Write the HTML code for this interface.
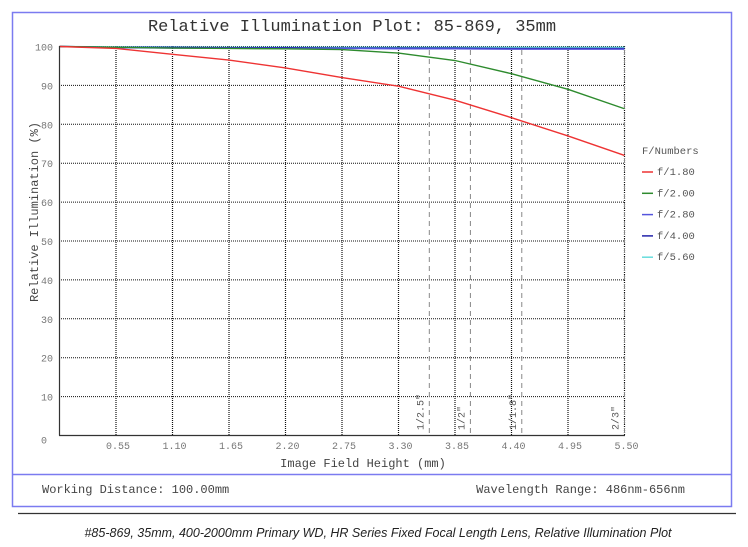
<!DOCTYPE html>
<html><head><meta charset="utf-8"><style>
body{margin:0;width:748px;height:547px;background:#fff;overflow:hidden}
svg{display:block}
</style></head><body>
<svg width="748" height="547" font-family="Liberation Mono, monospace">
<rect x="12.5" y="12.5" width="719" height="494" fill="none" stroke="#7b7bf0" stroke-width="1.5"/>
<line x1="12" y1="474.5" x2="732" y2="474.5" stroke="#7b7bf0" stroke-width="1.5"/>
<text x="352" y="31" font-size="17" text-anchor="middle" fill="#333">Relative Illumination Plot: 85-869, 35mm</text>
<g id="grid"></g>
<g id="sensors"></g>
<g id="series"></g>
<line x1="59.5" y1="46" x2="59.5" y2="435.5" stroke="#333" stroke-width="1.2"/>
<line x1="59" y1="435.5" x2="625" y2="435.5" stroke="#333" stroke-width="1.2"/>
<g id="ticks" font-size="10" fill="#777"></g>
<text x="363" y="467" font-size="12" text-anchor="middle" fill="#444">Image Field Height (mm)</text>
<text transform="translate(38,212) rotate(-90)" font-size="12" text-anchor="middle" fill="#444">Relative Illumination (%)</text>
<g id="legend" font-size="10.5" fill="#555">
<text x="642" y="154">F/Numbers</text>
</g>
<text x="42" y="493" font-size="12" fill="#444">Working Distance: 100.00mm</text>
<text x="685" y="493" font-size="12" fill="#444" text-anchor="end">Wavelength Range: 486nm-656nm</text>
<line x1="18" y1="513.5" x2="736" y2="513.5" stroke="#333" stroke-width="1.2"/>
<text x="378" y="537" font-family="Liberation Sans, sans-serif" font-style="italic" font-size="12.5" text-anchor="middle" fill="#222">#85-869, 35mm, 400-2000mm Primary WD, HR Series Fixed Focal Length Lens, Relative Illumination Plot</text>
</svg>
<script>
const xValues=[0,0.55,1.1,1.65,2.2,2.75,3.3,3.85,4.4,4.95,5.5];
const seriesNames=["f/1.80","f/2.00","f/2.80","f/4.00","f/5.60"];
const f180=[100,99.5,98,96.5,94.5,92,89.8,86.2,81.7,77,72];
const f200=[100,99.8,99.6,99.5,99.4,99.2,98.3,96.4,93,89,84];
const f280=[100,99.7,99.6,99.6,99.5,99.5,99.4,99.4,99.3,99.3,99.3];
const f400=[100,99.8,99.8,99.7,99.7,99.6,99.6,99.6,99.5,99.5,99.5];
const f560=[100,99.9,99.9,99.8,99.8,99.8,99.8,99.8,99.8,99.8,99.8];
const yTicks=[0,10,20,30,40,50,60,70,80,90,100];
const xTicks=["0.55","1.10","1.65","2.20","2.75","3.30","3.85","4.40","4.95","5.50"];
const sensorNames=['1/2.5"','1/2"','1/1.8"','2/3"'];
const sensorPos=[3.6,4.0,4.5,5.5];
const colors=["#ee3333","#2e8b2e","#5555dd","#2222aa","#66dddd"];
const NS="http://www.w3.org/2000/svg";
const X=v=>59.5+v*(624.5-59.5)/5.5;
const Y=v=>435.5-v*3.89;
function mk(tag,attrs,parent,txt){const e=document.createElementNS(NS,tag);for(const k in attrs)e.setAttribute(k,attrs[k]);if(txt!==undefined)e.textContent=txt;document.getElementById(parent).appendChild(e);return e;}
yTicks.forEach(t=>{
 if(t>0){const l=mk('line',{x1:59,x2:625,y1:Y(t),y2:Y(t),stroke:'#111','stroke-dasharray':'1,1','stroke-width':1},'grid');
 
 }
 const tx=mk('text',{x:t===0?47:53,y:t===0?Y(t)+8:Y(t)+4,'text-anchor':'end'},'ticks',String(t));
 
 
});
xTicks.forEach(s=>{
 const v=parseFloat(s);
 const l=mk('line',{x1:X(v),x2:X(v),y1:46,y2:435,stroke:'#111','stroke-dasharray':'1,1','stroke-width':1.2},'grid');
 
 
 const tx=mk('text',{x:X(v)+2,y:449,'text-anchor':'middle'},'ticks',s);
 
 
});
sensorNames.forEach((n,i)=>{
 const x=X(sensorPos[i]);
 const l=mk('line',{x1:x,x2:x,y1:50,y2:435,stroke:'#888','stroke-dasharray':'5,4','stroke-width':1},'sensors');
 
 
 const t=mk('text',{transform:`translate(${x-6},430) rotate(-90)`,'font-size':10,fill:'#555'},'sensors',n);
 
 
});
const all=[f180,f200,f280,f400,f560];
for(let i=all.length-1;i>=0;i--){
 const arr=all[i];
 const p=mk('polyline',{points:arr.map((v,j)=>X(xValues[j])+','+Y(v)).join(' '),fill:'none',stroke:colors[i],'stroke-width':1.4},'series');
 
 
}
seriesNames.forEach((n,i)=>{
 const y=175+i*21.3;
 const l=mk('line',{x1:642,x2:653,y1:y-3,y2:y-3,stroke:colors[i],'stroke-width':1.5},'legend');
 
 
 const t=mk('text',{x:657,y:y},'legend',n);
 
 
});
</script>
</body></html>
